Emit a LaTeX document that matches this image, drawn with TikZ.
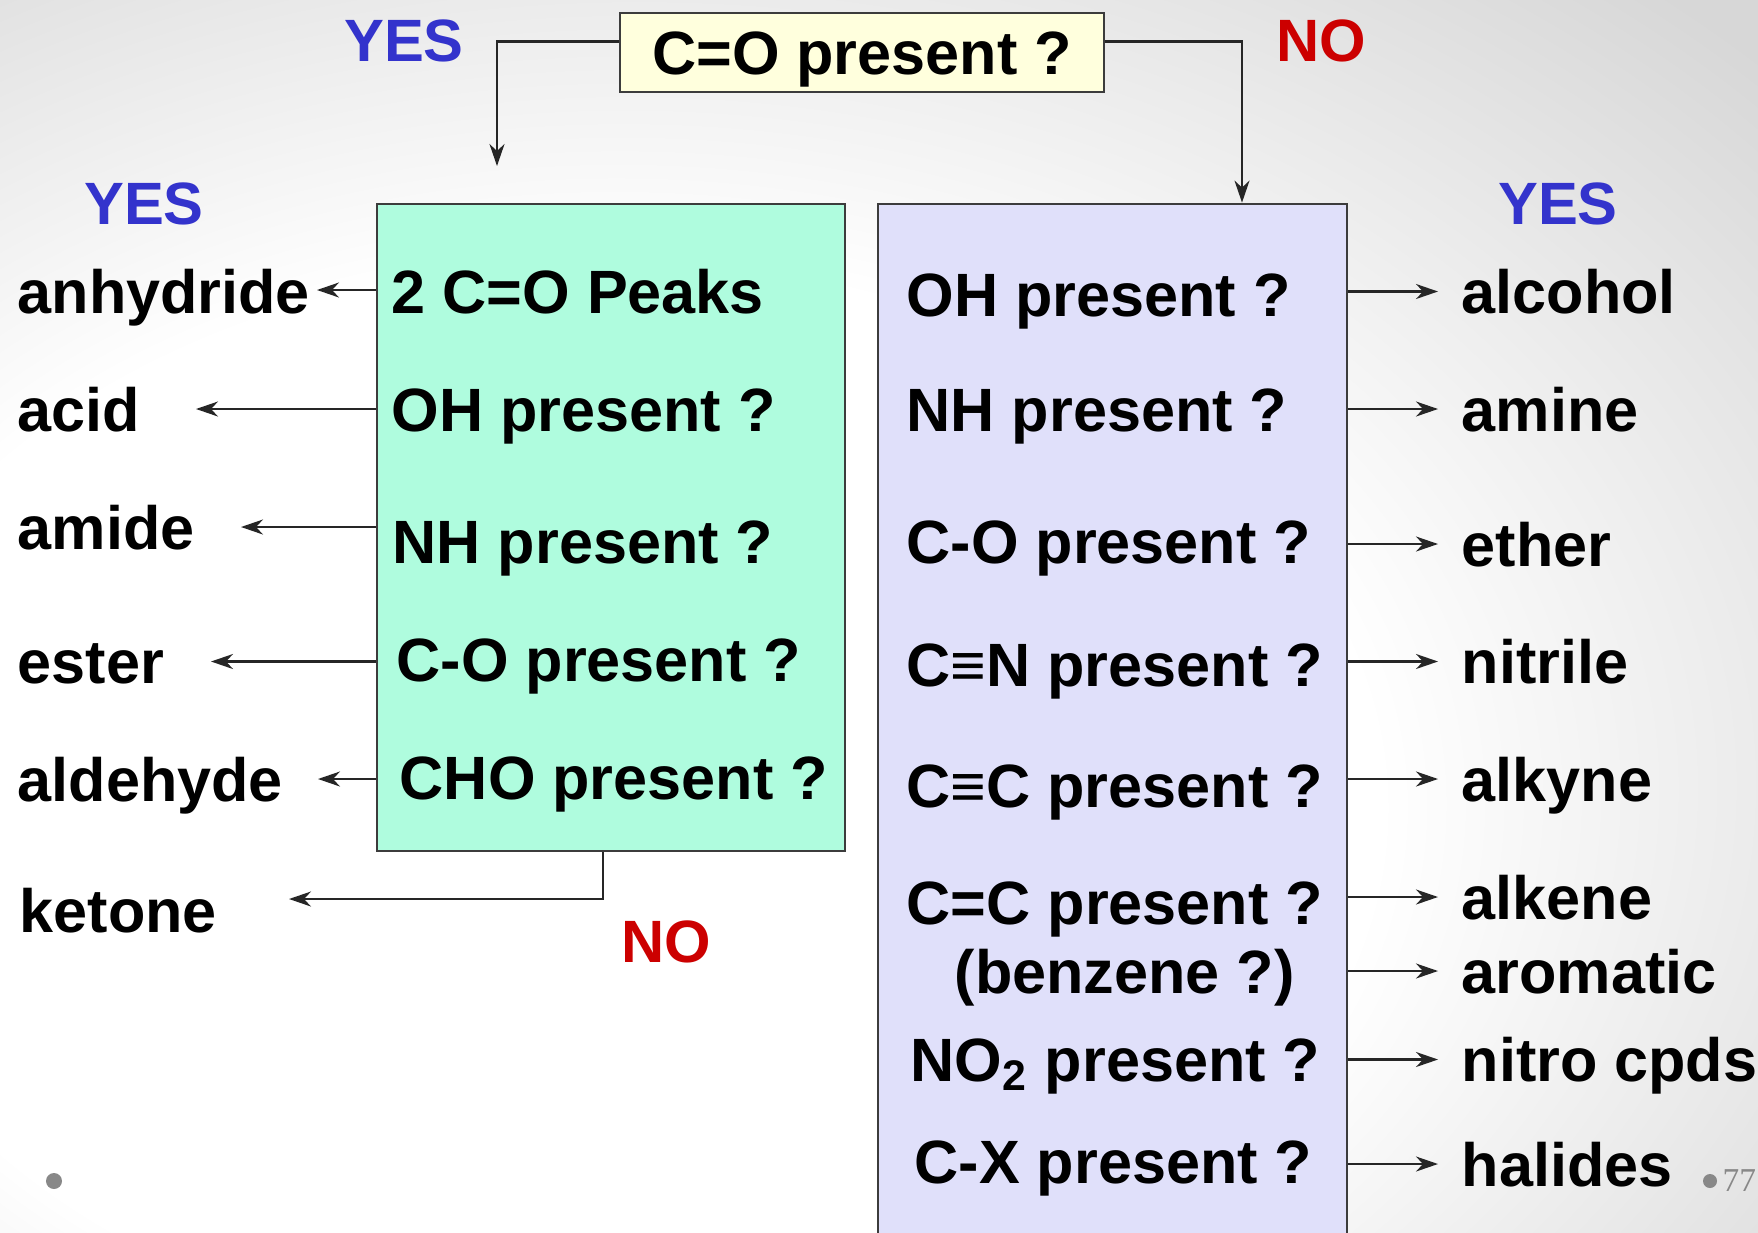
\documentclass[tikz,border=0pt]{standalone}
\usepackage{fontspec}
\setmainfont{Liberation Sans}
\newfontfamily\pagefont{Liberation Serif}
\usetikzlibrary{arrows.meta,positioning,calc}
\definecolor{yesblue}{RGB}{51,51,204}
\definecolor{nored}{RGB}{204,0,0}
\definecolor{carbonylgreen}{RGB}{175,252,222}
\definecolor{otherlilac}{RGB}{224,224,250}
\definecolor{questionyellow}{RGB}{255,255,221}
\definecolor{boxgray}{RGB}{60,60,60}
\definecolor{dotgray}{RGB}{136,136,136}
\definecolor{edgegray}{RGB}{215,215,215}
\pgfdeclareradialshading{slideshade}{\pgfpoint{-10bp}{-10bp}}{%
  color(0bp)=(white); color(22bp)=(white); color(42bp)=(edgegray); color(100bp)=(edgegray)}

\begin{document}
\begin{tikzpicture}[
  every node/.style={font=\fontsize{17.4}{20}\selectfont\bfseries},
  row/.style={anchor=west, inner sep=0pt, text height=4.4mm, text depth=0pt},
  outcome/.style={row, inner xsep=2.3mm},
  answer/.style={font=\fontsize{17}{20}\selectfont\bfseries, inner sep=0pt,
                 text height=4.4mm, text depth=0pt},
  panel/.style={draw=boxgray, line width=0.8pt, inner sep=0pt},
  arr/.style={-{Stealth[length=2.2mm,width=1.5mm,inset=0.7mm]},
              line width=0.6pt, draw=black!85}
]

% Background
\useasboundingbox (0,0) rectangle (17.58,-12.32);
\shade[shading=slideshade] (0,0) rectangle (17.58,-12.32);
\clip (0,0) rectangle (17.58,-12.32);

% First question
\node[panel, fill=questionyellow, minimum width=4.84cm, minimum height=0.79cm,
      text height=4.4mm, text depth=0pt] (q0) at (8.62,-0.525) {C=O present ?};

\node[answer, text=yesblue] (yestop) at (4.04,-0.39) {YES};
\node[answer, text=nored] (notop) at (13.21,-0.39) {NO};

% Carbonyl branch
\node[panel, fill=carbonylgreen, minimum width=4.68cm, minimum height=6.47cm]
  (cbox) at (6.11,-5.275) {};
\node[row] (c1) at (3.91,-2.915) {2 C=O Peaks};
\node[row] (c2) at (3.91,-4.09)  {OH present ?};
\node[row] (c3) at (3.92,-5.415) {NH present ?};
\node[row] (c4) at (3.96,-6.59)  {C-O present ?};
\node[row] (c5) at (3.99,-7.77)  {CHO present ?};

% Non-carbonyl branch
\node[panel, fill=otherlilac, minimum width=4.69cm, minimum height=10.41cm]
  (nbox) at (11.125,-7.245) {};
\node[row] (n1) at (9.06,-2.94)  {OH present ?};
\node[row] (n2) at (9.06,-4.09)  {NH present ?};
\node[row] (n3) at (9.06,-5.415) {C-O present ?};
\node[row] (n4) at (9.06,-6.64)  {C≡N present ?};
\node[row] (n5) at (9.06,-7.85)  {C≡C present ?};
\node[row] (n6) at (9.06,-9.025) {C=C present ?};
\node[row] (n7) at (9.54,-9.71)  {(benzene ?)};
\node[row] (n8) at (9.10,-10.595) {NO\textsubscript{2} present ?};
\node[row] (n9) at (9.14,-11.615) {C-X present ?};

% Entry arrows
\coordinate (ctip) at (4.97,-1.66);
\draw[arr] ([yshift=1.1mm]q0.west) -| (ctip);
\draw[arr] ([yshift=1.1mm]q0.east) -| ([xshift=1.295cm]nbox.north);

% Carbonyl results
\node[answer, text=yesblue] (yesleft) at (1.44,-2.02) {YES};
\node[row] (anhydride) at (0.17,-2.915) {anhydride};
\node[row] (acid)      at (0.17,-4.09)  {acid};
\node[row] (amide)     at (0.17,-5.27)  {amide};
\node[row] (ester)     at (0.17,-6.615) {ester};
\node[row] (aldehyde)  at (0.17,-7.79)  {aldehyde};
\node[row] (ketone)    at (0.19,-9.10)  {ketone};
\node[answer, text=nored] (nobottom) at (6.66,-9.40) {NO};

\coordinate (t1) at (3.17,-2.90);
\coordinate (t2) at (1.96,-4.09);
\coordinate (t3) at (2.41,-5.27);
\coordinate (t4) at (2.11,-6.615);
\coordinate (t5) at (3.18,-7.79);
\coordinate (t6) at (2.89,-8.99);

\draw[arr] (cbox.west |- t1) -- (t1);
\draw[arr] (cbox.west |- t2) -- (t2);
\draw[arr] (cbox.west |- t3) -- (t3);
\draw[arr] (cbox.west |- t4) -- (t4);
\draw[arr] (cbox.west |- t5) -- (t5);
\draw[arr] ([xshift=-0.8mm]cbox.south) |- (t6);

% Non-carbonyl results
\node[answer, text=yesblue] (yesright) at (15.58,-2.02) {YES};
\node[outcome] (alcohol)  at (14.38,-2.915) {alcohol};
\node[outcome] (amine)    at (14.38,-4.09)  {amine};
\node[outcome] (ether)    at (14.38,-5.44)  {ether};
\node[outcome] (nitrile)  at (14.38,-6.615) {nitrile};
\node[outcome] (alkyne)   at (14.38,-7.79)  {alkyne};
\node[outcome] (alkene)   at (14.38,-8.97)  {alkene};
\node[outcome] (aromatic) at (14.38,-9.71)  {aromatic};
\node[outcome] (nitro)    at (14.38,-10.595) {nitro cpds};
\node[outcome] (halides)  at (14.38,-11.64) {halides};

\draw[arr] (nbox.east |- alcohol.west)  -- (alcohol.west);
\draw[arr] (nbox.east |- amine.west)    -- (amine.west);
\draw[arr] (nbox.east |- ether.west)    -- (ether.west);
\draw[arr] (nbox.east |- nitrile.west)  -- (nitrile.west);
\draw[arr] (nbox.east |- alkyne.west)   -- (alkyne.west);
\draw[arr] (nbox.east |- alkene.west)   -- (alkene.west);
\draw[arr] (nbox.east |- aromatic.west) -- (aromatic.west);
\draw[arr] (nbox.east |- nitro.west)    -- (nitro.west);
\draw[arr] (nbox.east |- halides.west)  -- (halides.west);

% Slide marks
\fill[dotgray] (0.54,-11.81) circle (0.8mm);
\fill[dotgray] (17.10,-11.81) circle (0.7mm);
\node[font=\pagefont\fontsize{9.5}{11}\selectfont, text=dotgray, anchor=west,
      inner sep=0pt] (pagenum) at (17.22,-11.81) {77};

\end{tikzpicture}
\end{document}
